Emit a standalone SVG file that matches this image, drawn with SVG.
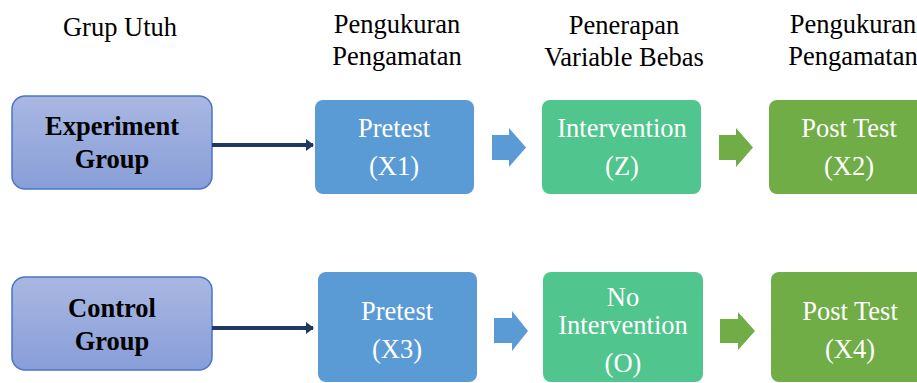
<svg xmlns="http://www.w3.org/2000/svg" width="917" height="383" viewBox="0 0 917 383">
<defs>
<linearGradient id="grp" x1="0" y1="0" x2="0" y2="1">
<stop offset="0" stop-color="#a9b7e2"/>
<stop offset="1" stop-color="#889ed8"/>
</linearGradient>
<marker id="ah" viewBox="0 0 8 12" refX="7" refY="6" markerWidth="8" markerHeight="12" markerUnits="userSpaceOnUse" orient="auto">
<path d="M0,0 L8,6 L0,12 Z" fill="#1f3864"/>
</marker>
<style>
text{font-size:26.5px;text-anchor:middle}
.hd{fill:#000}
.grp{fill:url(#grp);stroke:#4a74c6;stroke-width:1.5}
.gt{font-weight:bold;fill:#000}
.wt{fill:#fff}
.blue{fill:#5b9bd5}
.teal{fill:#50c58d}
.green{fill:#70ad47}
.conn{stroke:#1f3864;stroke-width:4;fill:none}
</style>
</defs>

<g font-family="Liberation Serif, serif">
<g id="headers">
<text class="hd" x="120" y="36">Grup Utuh</text>
<text class="hd" x="397" y="33">Pengukuran</text>
<text class="hd" x="397" y="65">Pengamatan</text>
<text class="hd" x="624" y="34">Penerapan</text>
<text class="hd" x="624" y="66">Variable Bebas</text>
<text class="hd" x="853" y="33">Pengukuran</text>
<text class="hd" x="853" y="65">Pengamatan</text>
</g>

<g id="experiment-group">
<rect class="grp" x="12" y="96" width="200" height="93" rx="13"/>
<text class="gt" x="112" y="135">Experiment</text>
<text class="gt" x="112" y="168">Group</text>
</g>
<g id="pretest-x1">
<rect class="blue" x="315" y="100" width="159" height="94" rx="8"/>
<text class="wt" x="394" y="137">Pretest</text>
<text class="wt" x="394" y="175">(X1)</text>
</g>
<g id="intervention-z">
<rect class="teal" x="542" y="100" width="159" height="94" rx="8"/>
<text class="wt" x="622" y="137">Intervention</text>
<text class="wt" x="622" y="175">(Z)</text>
</g>
<g id="posttest-x2">
<rect class="green" x="769" y="100" width="159" height="94" rx="8"/>
<text class="wt" x="849" y="137">Post Test</text>
<text class="wt" x="849" y="175">(X2)</text>
</g>

<g id="control-group">
<rect class="grp" x="12" y="277" width="200" height="93" rx="13"/>
<text class="gt" x="112" y="317">Control</text>
<text class="gt" x="112" y="350">Group</text>
</g>
<g id="pretest-x3">
<rect class="blue" x="318" y="272" width="159" height="110" rx="8"/>
<text class="wt" x="397" y="320">Pretest</text>
<text class="wt" x="397" y="358">(X3)</text>
</g>
<g id="no-intervention-o">
<rect class="teal" x="543" y="272" width="160" height="110" rx="8"/>
<text class="wt" x="623" y="306">No</text>
<text class="wt" x="623" y="334">Intervention</text>
<text class="wt" x="623" y="372">(O)</text>
</g>
<g id="posttest-x4">
<rect class="green" x="771" y="272" width="159" height="110" rx="8"/>
<text class="wt" x="850" y="320">Post Test</text>
<text class="wt" x="850" y="358">(X4)</text>
</g>
</g>

<g id="connectors">
<line class="conn" x1="212" y1="145" x2="313" y2="145" marker-end="url(#ah)"/>
<line class="conn" x1="212" y1="328" x2="313" y2="328" marker-end="url(#ah)"/>
<path class="blue" d="M492,135 H509 V128 L526,147.5 L509,167 V160 H492 Z"/>
<path class="green" d="M719,135 H736 V128 L753,147.5 L736,167 V160 H719 Z"/>
<path class="blue" d="M494,318 H512 V311 L528,331 L512,351 V343 H494 Z"/>
<path class="green" d="M720,319 H738 V312 L755,331 L738,350 V343 H720 Z"/>
</g>
</svg>
